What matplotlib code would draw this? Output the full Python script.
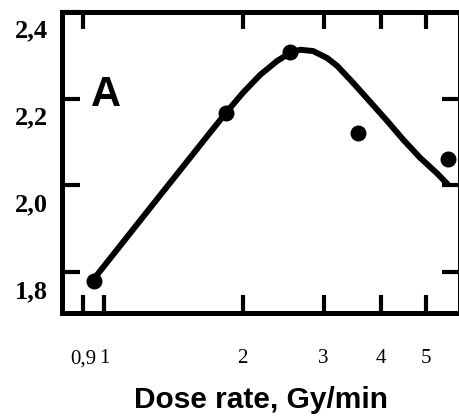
import matplotlib
matplotlib.use("Agg")
import matplotlib.pyplot as plt
from matplotlib.ticker import NullLocator
from matplotlib.transforms import ScaledTranslation

# measured points
dose_rate = [0.95, 1.84, 2.54, 3.57, 5.6]
response = [1.78, 2.168, 2.308, 2.12, 2.062]

# fitted curve through the points
fit_x = [0.946, 1.139, 1.323, 1.538, 1.700, 1.842, 2.005, 2.184, 2.377,
         2.512, 2.668, 2.847, 3.053, 3.210, 3.477, 3.787, 4.124, 4.467,
         4.864, 5.296, 5.594]
fit_y = [1.782, 1.890, 1.977, 2.064, 2.122, 2.168, 2.214, 2.255, 2.287,
         2.303, 2.313, 2.310, 2.294, 2.276, 2.237, 2.193, 2.149, 2.106,
         2.064, 2.028, 2.002]

x_ticks = [0.9, 1, 2, 3, 4, 5]
x_labels = ["0,9", "1", "2", "3", "4", "5"]
top_ticks = [0.9, 2, 3, 4, 5]
y_ticks = [1.8, 2.0, 2.2, 2.4]
y_labels = ["1,8", "2,0", "2,2", "2,4"]
right_ticks = [1.8, 2.0, 2.2]

fig = plt.figure(figsize=(4.59, 4.16), dpi=100)
ax = fig.add_axes([62 / 459, 103 / 416, 398 / 459, 301 / 416])

ax.plot(fit_x, fit_y, color="black", lw=4.3, solid_capstyle="butt",
        solid_joinstyle="round", zorder=2)
ax.plot(dose_rate, response, "o", color="black", ms=10.5, zorder=3)

ax.set_xscale("log")
ax.set_xlim(0.81, 5.94)
ax.set_ylim(1.706, 2.4)

ax.set_xticks(x_ticks)
ax.set_xticklabels(x_labels, family="Liberation Serif", fontsize=15)
ax.xaxis.set_minor_locator(NullLocator())
ax.set_yticks(y_ticks)
ax.set_yticklabels(y_labels, family="Liberation Serif", fontsize=19, fontweight="bold")

ax.tick_params(axis="x", direction="in", length=13, width=3, pad=26)
ax.tick_params(axis="y", direction="in", length=13, width=3, pad=10)

# labels sit a little below their ticks
shift = ScaledTranslation(0, -12 / 72, fig.dpi_scale_trans)
for lab in ax.get_yticklabels():
    lab.set_transform(lab.get_transform() + shift)

top = ax.secondary_xaxis("top")
top.set_xticks(top_ticks)
top.set_xticklabels([])
top.xaxis.set_minor_locator(NullLocator())
top.tick_params(direction="in", length=12, width=3)

right = ax.secondary_yaxis("right")
right.set_yticks(right_ticks)
right.set_yticklabels([])
right.tick_params(direction="in", length=13, width=3)

for sp in list(ax.spines.values()) + [top.spines["top"], right.spines["right"]]:
    sp.set_linewidth(3.6)

ax.set_xlabel("Dose rate, Gy/min", family="Liberation Sans", fontsize=21.5,
              fontweight="bold", labelpad=13)
ax.text(0.11, 0.725, "A", transform=ax.transAxes, family="Liberation Sans",
        fontsize=30, fontweight="bold", ha="center", va="center")

fig.savefig("out.png", dpi=100)
